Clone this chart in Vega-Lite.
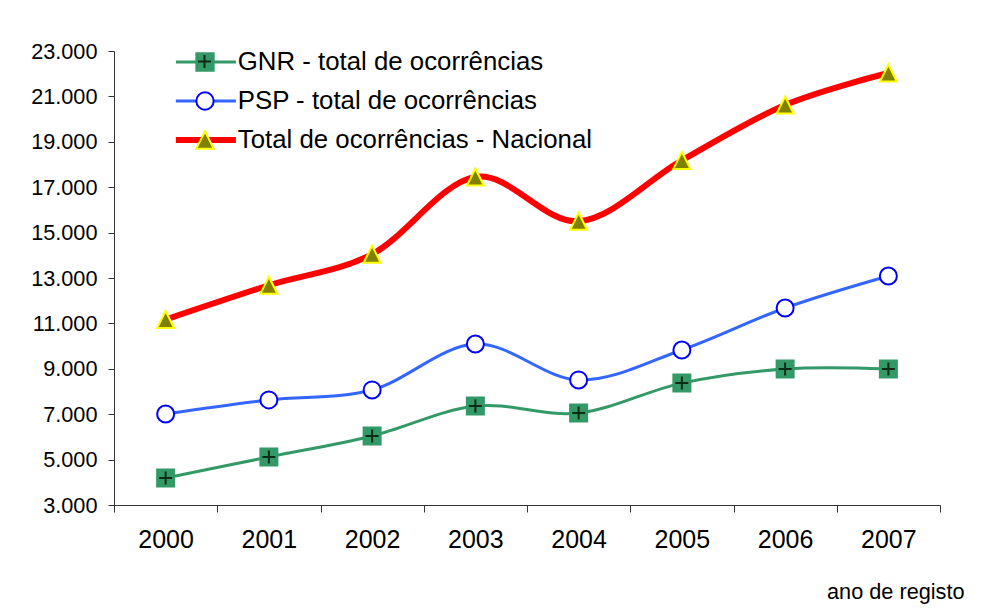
{
  "$schema": "https://vega.github.io/schema/vega-lite/v6.json",
  "width": 826,
  "height": 454,
  "autosize": {"type": "none"},
  "padding": {"left": 114, "top": 51, "right": 49, "bottom": 107},
  "background": "white",
  "config": {"view": {"stroke": null}, "font": "Liberation Sans"},
  "data": {
    "values": [
      {"year": "2000", "series": "GNR - total de ocorrências", "value": 4190},
      {"year": "2001", "series": "GNR - total de ocorrências", "value": 5115},
      {"year": "2002", "series": "GNR - total de ocorrências", "value": 6040},
      {"year": "2003", "series": "GNR - total de ocorrências", "value": 7360},
      {"year": "2004", "series": "GNR - total de ocorrências", "value": 7050},
      {"year": "2005", "series": "GNR - total de ocorrências", "value": 8370},
      {"year": "2006", "series": "GNR - total de ocorrências", "value": 8990},
      {"year": "2007", "series": "GNR - total de ocorrências", "value": 8990},
      {"year": "2000", "series": "PSP - total de ocorrências", "value": 7010},
      {"year": "2001", "series": "PSP - total de ocorrências", "value": 7630},
      {"year": "2002", "series": "PSP - total de ocorrências", "value": 8070},
      {"year": "2003", "series": "PSP - total de ocorrências", "value": 10090},
      {"year": "2004", "series": "PSP - total de ocorrências", "value": 8510},
      {"year": "2005", "series": "PSP - total de ocorrências", "value": 9830},
      {"year": "2006", "series": "PSP - total de ocorrências", "value": 11680},
      {"year": "2007", "series": "PSP - total de ocorrências", "value": 13090},
      {"year": "2000", "series": "Total de ocorrências - Nacional", "value": 11170},
      {"year": "2001", "series": "Total de ocorrências - Nacional", "value": 12680},
      {"year": "2002", "series": "Total de ocorrências - Nacional", "value": 14050},
      {"year": "2003", "series": "Total de ocorrências - Nacional", "value": 17450},
      {"year": "2004", "series": "Total de ocorrências - Nacional", "value": 15500},
      {"year": "2005", "series": "Total de ocorrências - Nacional", "value": 18180},
      {"year": "2006", "series": "Total de ocorrências - Nacional", "value": 20620},
      {"year": "2007", "series": "Total de ocorrências - Nacional", "value": 22030}
    ]
  },
  "encoding": {
    "x": {
      "field": "year",
      "type": "ordinal",
      "scale": {"paddingInner": 0, "paddingOuter": 0},
      "axis": {
        "tickBand": "extent",
        "labelAngle": 0,
        "labelFontSize": 25,
        "labelColor": "#000000",
        "labelPadding": 15,
        "tickSize": 7,
        "tickColor": "#333333",
        "domainColor": "#333333",
        "title": "ano de registo",
        "titleFontSize": 21.7,
        "titleFontWeight": "normal",
        "titleColor": "#000000",
        "titleX": 850,
        "titleY": 93,
        "titleAlign": "right",
        "titleBaseline": "alphabetic",
        "titleAnchor": null
      }
    },
    "y": {
      "field": "value",
      "type": "quantitative",
      "scale": {"domain": [3000, 23000], "nice": false, "zero": false},
      "axis": {
        "values": [3000, 5000, 7000, 9000, 11000, 13000, 15000, 17000, 19000, 21000, 23000],
        "labelExpr": "replace(format(datum.value, ',d'), ',', '.')",
        "grid": false,
        "title": null,
        "labelFontSize": 21.7,
        "labelColor": "#000000",
        "labelPadding": 11,
        "tickSize": 6,
        "tickColor": "#333333",
        "domainColor": "#333333"
      }
    }
  },
  "layer": [
    {
      "transform": [{"filter": "datum.series !== 'Total de ocorrências - Nacional'"}],
      "mark": {"type": "line", "interpolate": "cardinal", "strokeWidth": 3},
      "encoding": {
        "color": {
          "field": "series",
          "type": "nominal",
          "scale": {
            "domain": ["GNR - total de ocorrências", "PSP - total de ocorrências", "Total de ocorrências - Nacional"],
            "range": ["#339966", "#3366FF", "#FF0000"]
          },
          "legend": {
            "orient": "none",
            "legendX": 79,
            "legendY": -2,
            "title": null,
            "symbolType": "stroke",
            "symbolSize": 3600,
            "symbolStrokeWidth": 3,
            "labelFontSize": 25.8,
            "labelColor": "#000000",
            "labelLimit": 600,
            "labelOffset": 19,
            "rowPadding": 12,
            "padding": 0,
            "encode": {
              "symbols": {
                "update": {
                  "strokeWidth": {"signal": "datum.value === 'Total de ocorrências - Nacional' ? 6 : 3"}
                }
              }
            }
          }
        }
      }
    },
    {
      "transform": [{"filter": "datum.series === 'Total de ocorrências - Nacional'"}],
      "mark": {"type": "line", "interpolate": "cardinal", "strokeWidth": 6},
      "encoding": {
        "color": {"field": "series", "type": "nominal"}
      }
    },
    {
      "mark": {"type": "point", "filled": true, "strokeWidth": 2, "opacity": 1},
      "encoding": {
        "shape": {
          "field": "series",
          "type": "nominal",
          "scale": {"range": ["square", "circle", "M0,-1L1,1L-1,1Z"]},
          "legend": {
            "orient": "none",
            "legendX": 81,
            "legendY": 1,
            "title": null,
            "symbolSize": 300,
            "symbolStrokeWidth": 2,
            "labelExpr": "''",
            "labelFontSize": 1,
            "gridAlign": "all",
            "rowPadding": 13,
            "padding": 0,
            "encode": {
              "symbols": {
                "update": {
                  "size": {"signal": "datum.value === 'GNR - total de ocorrências' ? 289 : datum.value === 'PSP - total de ocorrências' ? 180 : 484"}
                }
              }
            }
          }
        },
        "fill": {
          "field": "series",
          "type": "nominal",
          "scale": {"range": ["#339966", "#FFFFFF", "#808000"]}
        },
        "stroke": {
          "field": "series",
          "type": "nominal",
          "scale": {"range": ["#339966", "#0000FF", "#FFFF00"]}
        },
        "size": {"value": 289}
      }
    },
    {
      "transform": [{"filter": "datum.series === 'GNR - total de ocorrências'"}],
      "mark": {"type": "point", "shape": "M-1,0H1M0,-1V1", "filled": false, "stroke": "#0d2b14", "strokeWidth": 2, "size": 169, "opacity": 1},
      "encoding": {
        "strokeDash": {
          "field": "series",
          "type": "nominal",
          "scale": {"range": [[1, 0]]},
          "legend": {
            "orient": "none",
            "legendX": 83,
            "legendY": 3,
            "title": null,
            "symbolType": "M-1,0H1M0,-1V1",
            "symbolSize": 169,
            "symbolStrokeColor": "#0d2b14",
            "symbolStrokeWidth": 2,
            "symbolFillColor": "transparent",
            "labelExpr": "''",
            "labelFontSize": 1,
            "padding": 0
          }
        }
      }
    }
  ]
}
